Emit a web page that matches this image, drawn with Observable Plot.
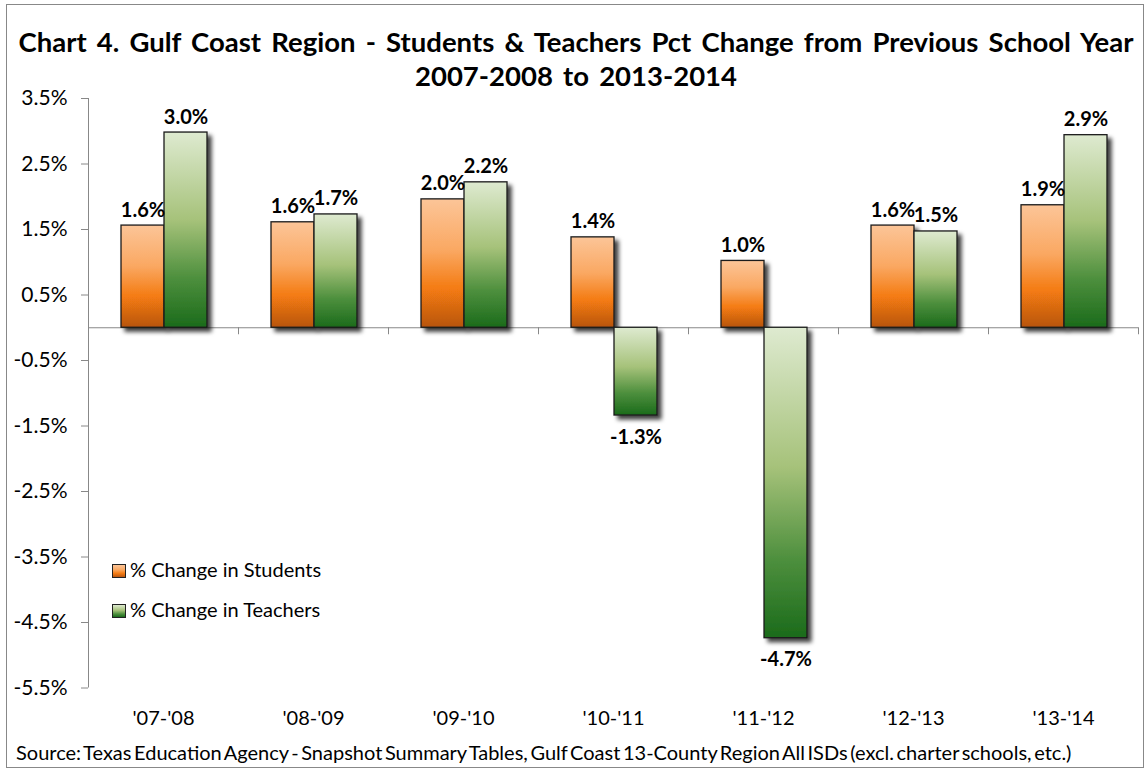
<!DOCTYPE html>
<html>
<head>
<meta charset="utf-8">
<script src="https://cdn.jsdelivr.net/npm/d3@7"></script>
<script src="https://cdn.jsdelivr.net/npm/@observablehq/plot@0.6"></script>
<style>
  html, body { margin: 0; padding: 0; background: #fff; }
  #wrap { position: relative; width: 1146px; height: 771px; font-family: Lato, "Open Sans", sans-serif; overflow: hidden; }
  #box { position: absolute; left: 6px; top: 4px; width: 1138px; height: 764px; border: 1px solid #888; box-sizing: border-box; }
  #title { position: absolute; left: 0; top: 25px; width: 1152px; text-align: center; font-weight: bold; font-size: 27.5px; line-height: 34px; color: #000; word-spacing: 3.5px; }
  #chart { position: absolute; left: 0; top: 70px; }
  #source { position: absolute; left: 16px; top: 740px; font-size: 20px; color: #000; white-space: nowrap; word-spacing: -2.5px; }
  .leg { position: absolute; left: 112px; font-size: 20px; line-height: 22px; white-space: nowrap; }
  .sw { display: inline-block; width: 12px; height: 12px; border: 1px solid #222; vertical-align: -1px; margin-right: 4px; }
</style>
</head>
<body>
<div id="wrap">
  <div id="box"></div>
  <div id="title">Chart 4. Gulf Coast Region - Students &amp; Teachers Pct Change from Previous School Year<br>2007-2008 to 2013-2014</div>
  <div id="chart"></div>
  <div class="leg" style="top:558px"><span class="sw" style="background:linear-gradient(#fcc598,#faa862 40%,#f47b12 70%,#b85510)"></span>% Change in Students</div>
  <div class="leg" style="top:598px"><span class="sw" style="background:linear-gradient(#deead0,#a6c27a 45%,#4d8f3d 75%,#1b6b1b)"></span>% Change in Teachers</div>
  <div id="source">Source: Texas Education Agency - Snapshot Summary Tables, Gulf Coast 13-County Region All ISDs (excl. charter schools, etc.)</div>
</div>
<script>
const categories = ["'07-'08", "'08-'09", "'09-'10", "'10-'11", "'11-'12", "'12-'13", "'13-'14"];
const students = [1.56, 1.61, 1.96, 1.38, 1.02, 1.56, 1.87];
const teachers = [2.98, 1.73, 2.22, -1.34, -4.74, 1.47, 2.94];
const yTicks = [3.5, 2.5, 1.5, 0.5, -0.5, -1.5, -2.5, -3.5, -4.5, -5.5];

const data = categories.map((c, i) => ({cat: c, students: students[i], teachers: teachers[i]}));
const fmt = v => v.toFixed(1) + "%";

const W = 1146, H = 665, mL = 88, mR = 8, mT = 28, mB = 47.5;
const bw = (W - mL - mR) / categories.length;

const chart = Plot.plot({
  width: W, height: H,
  marginLeft: mL, marginRight: mR, marginTop: mT, marginBottom: mB,
  style: {fontFamily: "Lato, 'Open Sans', sans-serif", background: "transparent", color: "#000"},
  x: {domain: categories, padding: 0, axis: null},
  y: {domain: [-5.5, 3.5], axis: null},
  marks: [
    Plot.ruleX([categories[0]], {x: d => d, dx: -bw / 2, y1: -5.5, y2: 3.5, stroke: "#888"}),
    Plot.axisY(yTicks, {tickSize: 7, tickPadding: 14, tickFormat: fmt, fontSize: 21, stroke: "#888", fill: "#000", label: null}),
    Plot.axisX({anchor: "bottom", tickSize: 0, tickPadding: 23, fontSize: 20, fill: "#000", label: null}),
    Plot.ruleY([0], {stroke: "#888"}),
    Plot.ruleX(categories, {x: d => d, dx: bw / 2, y1: 0, y2: -0.107, stroke: "#888"}),
    Plot.barY(data, {x: "cat", y: "students", fill: "url(#gradS)", stroke: "#1a1a1a", strokeWidth: 1.3, insetLeft: 33, insetRight: 74}),
    Plot.barY(data, {x: "cat", y: "teachers", fill: "url(#gradT)", stroke: "#1a1a1a", strokeWidth: 1.3, insetLeft: 76, insetRight: 31}),
    Plot.text(data, {x: "cat", y: "students", text: d => fmt(d.students), dx: -20.5, dy: -9, lineAnchor: "bottom", fontWeight: "bold", fontSize: 20, fill: "#000"}),
    Plot.text(data, {filter: d => d.teachers >= 0, x: "cat", y: "teachers", text: d => fmt(d.teachers), dx: 22.5, dy: -9, lineAnchor: "bottom", fontWeight: "bold", fontSize: 20, fill: "#000"}),
    Plot.text(data, {filter: d => d.teachers < 0, x: "cat", y: "teachers", text: d => fmt(d.teachers), dx: 22.5, dy: 14, lineAnchor: "top", fontWeight: "bold", fontSize: 20, fill: "#000"})
  ]
});

const ns = "http://www.w3.org/2000/svg";
const defs = document.createElementNS(ns, "defs");
defs.innerHTML = `
  <linearGradient id="gradS" x1="0" y1="0" x2="0" y2="1">
    <stop offset="0" stop-color="#fcc598"/>
    <stop offset="0.4" stop-color="#faa862"/>
    <stop offset="0.7" stop-color="#f47b12"/>
    <stop offset="1" stop-color="#b85510"/>
  </linearGradient>
  <linearGradient id="gradT" x1="0" y1="0" x2="0" y2="1">
    <stop offset="0" stop-color="#deead0"/>
    <stop offset="0.45" stop-color="#a6c27a"/>
    <stop offset="0.75" stop-color="#4d8f3d"/>
    <stop offset="1" stop-color="#1b6b1b"/>
  </linearGradient>
  <filter id="shadow" x="-10%" y="-10%" width="130%" height="130%">
    <feDropShadow dx="4" dy="4" stdDeviation="2.2" flood-color="#000" flood-opacity="0.75"/>
  </filter>`;
chart.insertBefore(defs, chart.firstChild);
chart.querySelectorAll('g[aria-label="bar"]').forEach(g => g.setAttribute("filter", "url(#shadow)"));
document.getElementById("chart").appendChild(chart);
</script>
</body>
</html>
